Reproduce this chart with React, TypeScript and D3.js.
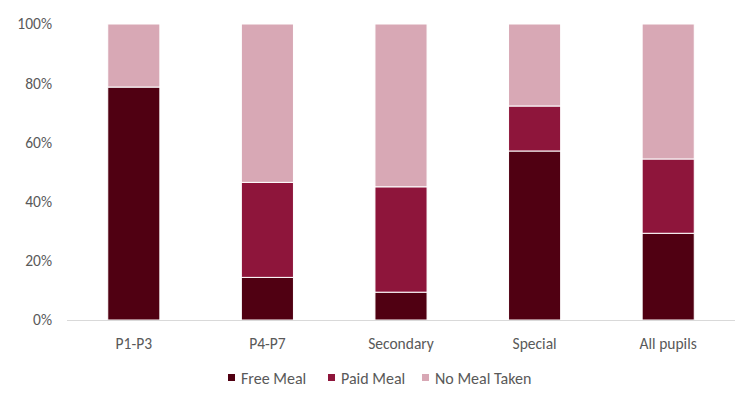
import * as d3 from "d3";
import { useEffect, useRef } from "react";

const categories = ["P1-P3", "P4-P7", "Secondary", "Special", "All pupils"];
const freeMeal = [78.7, 14.4, 9.4, 57.1, 29.3];
const paidMeal = [0, 32.1, 35.6, 15.2, 25.1];
const noMeal = [21.3, 53.5, 55.0, 27.7, 45.6];
const seriesNames = ["Free Meal", "Paid Meal", "No Meal Taken"];
const colors = ["#500012", "#8e153b", "#d8a8b5"];
const yTicks = [0, 20, 40, 60, 80, 100];

export default function App() {
  const svgRef = useRef<SVGSVGElement>(null);

  useEffect(() => {
    if (!svgRef.current) return;
    const svg = d3.select(svgRef.current);
    svg.selectAll("*").remove();

    const margin = { top: 24, right: 15, bottom: 74, left: 67 };
    const width = 750 - margin.left - margin.right;
    const height = 394 - margin.top - margin.bottom;
    const font = "Calibri, Carlito, 'Open Sans', sans-serif";

    const rows = categories.map((c, i) => ({
      category: c,
      "Free Meal": freeMeal[i],
      "Paid Meal": paidMeal[i],
      "No Meal Taken": noMeal[i],
    }));

    const stacked = d3.stack<any>().keys(seriesNames)(rows);

    const x = d3
      .scaleBand()
      .domain(categories)
      .range([0, width])
      .paddingInner(0.61)
      .paddingOuter(0.305);

    const y = d3.scaleLinear().domain([0, 100]).range([height, 0]);

    const g = svg.append("g").attr("transform", `translate(${margin.left},${margin.top})`);

    // bars
    g.selectAll(".layer")
      .data(stacked)
      .enter()
      .append("g")
      .attr("fill", (d, i) => colors[i])
      .selectAll("rect")
      .data((d) => d)
      .enter()
      .append("rect")
      .attr("x", (d: any) => x(d.data.category)!)
      .attr("width", x.bandwidth())
      .attr("y", (d) => y(d[1]))
      .attr("height", (d) => Math.max(0, y(d[0]) - y(d[1])))
      .attr("stroke", "#ffffff")
      .attr("stroke-width", (d) => (d[1] - d[0] > 0 ? 1 : 0));

    // y tick labels
    g.selectAll(".ytick")
      .data(yTicks)
      .enter()
      .append("text")
      .attr("x", -15)
      .attr("y", (d) => y(d))
      .attr("dy", "0.35em")
      .attr("text-anchor", "end")
      .style("font-family", font)
      .style("font-size", "15.5px")
      .style("fill", "#595959")
      .text((d) => `${d}%`);

    // x axis line
    g.append("line")
      .attr("x1", 0)
      .attr("x2", width)
      .attr("y1", height + 0.5)
      .attr("y2", height + 0.5)
      .attr("stroke", "#d9d9d9")
      .attr("stroke-width", 1);

    // category labels
    g.selectAll(".xlabel")
      .data(categories)
      .enter()
      .append("text")
      .attr("x", (d) => x(d)! + x.bandwidth() / 2)
      .attr("y", height + 24)
      .attr("dy", "0.35em")
      .attr("text-anchor", "middle")
      .style("font-family", font)
      .style("font-size", "15.5px")
      .style("fill", "#595959")
      .text((d) => d);

    // legend
    const legendX = [228, 328, 422];
    const legend = svg
      .selectAll(".legend")
      .data(seriesNames)
      .enter()
      .append("g")
      .attr("transform", (d, i) => `translate(${legendX[i]},378)`);

    legend
      .append("rect")
      .attr("x", 0)
      .attr("y", -4)
      .attr("width", 7)
      .attr("height", 7)
      .attr("fill", (d, i) => colors[i]);

    legend
      .append("text")
      .attr("x", 13)
      .attr("y", 0)
      .attr("dy", "0.35em")
      .style("font-family", font)
      .style("font-size", "16px")
      .style("fill", "#595959")
      .text((d) => d);
  }, []);

  return (
    <div>
      <svg ref={svgRef} width={750} height={394} style={{ position: "absolute", left: 0, top: 0 }} />
    </div>
  );
}
